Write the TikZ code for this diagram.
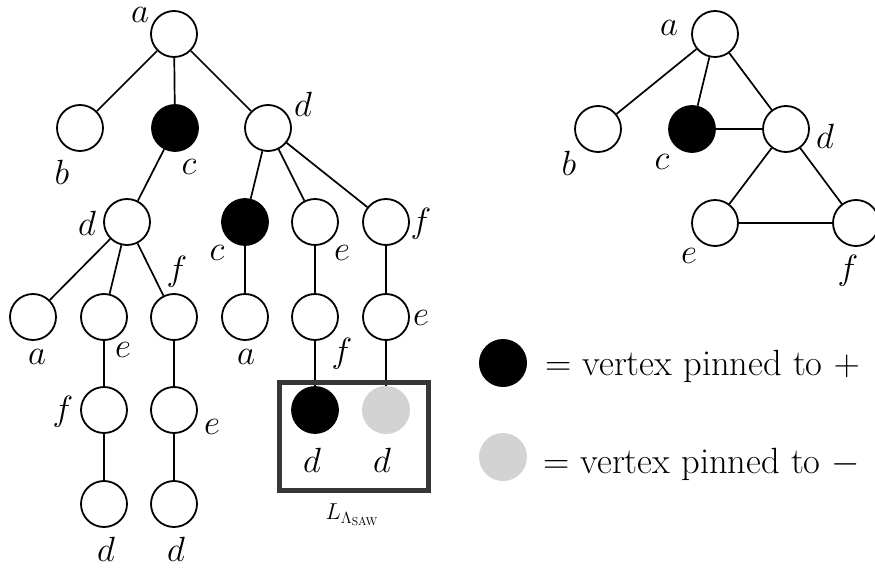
\RequirePackage{fix-cm}
\documentclass[tikz,border=0pt]{standalone}
\definecolor{pinneg}{RGB}{211,211,211}
\definecolor{boxgray}{RGB}{55,55,55}
\begin{document}
\begin{tikzpicture}[x=1pt,y=-1pt,
  v/.style={circle,draw,line width=1.8pt,minimum size=46pt,inner sep=0pt},
  vp/.style={v,fill=black},
  vn/.style={circle,fill=pinneg,minimum size=48pt,inner sep=0pt},
  lab/.style={font=\fontsize{35}{40}\selectfont,inner sep=0pt},
  leg/.style={font=\fontsize{36.5}{40}\selectfont,inner sep=0pt,anchor=base west},
  edge/.style={line width=1.7pt}]
\useasboundingbox (0,0) rectangle (875,569);
% ---------------- tree ----------------
\node[v]  (r)   at (174,34) {};
\node[v]  (b1)  at (80,128) {};
\node[vp] (c1)  at (175,128) {};
\node[v]  (d1)  at (268,128) {};
\node[v]  (d2)  at (127,222) {};
\node[vp] (c2)  at (245,222) {};
\node[v]  (e2)  at (315,222) {};
\node[v]  (f2)  at (386,222) {};
\node[v]  (a3)  at (33,317) {};
\node[v]  (e3)  at (104,317) {};
\node[v]  (f3)  at (174,317) {};
\node[v]  (a3b) at (245,317) {};
\node[v]  (f3b) at (315,317) {};
\node[v]  (e3b) at (386,317) {};
\node[v]  (f4)  at (104,410) {};
\node[v]  (e4)  at (174,410) {};
\node[vp] (d4p) at (315,410) {};
\node[vn] (d4n) at (386,410) {};
\node[v]  (d5)  at (104,504) {};
\node[v]  (d5b) at (174,504) {};
\foreach \u/\w in {r/b1,r/c1,r/d1,c1/d2,d1/c2,d1/e2,d1/f2,d2/a3,d2/e3,d2/f3,
  c2/a3b,e2/f3b,f2/e3b,e3/f4,f3/e4,f3b/d4p,e3b/d4n,f4/d5,e4/d5b}
  \draw[edge] (\u) -- (\w);
% labels
\node[lab] at (140,15) {$a$};
\node[lab] at (62,172) {$b$};
\node[lab] at (189,167) {$c$};
\node[lab] at (303,104) {$d$};
\node[lab] at (87,223) {$d$};
\node[lab] at (217,253) {$c$};
\node[lab] at (342,253) {$e$};
\node[lab] at (421,224) {$f$};
\node[lab] at (177,272) {$f$};
\node[lab] at (37,357) {$a$};
\node[lab] at (123,350) {$e$};
\node[lab] at (246,357) {$a$};
\node[lab] at (342,354) {$f$};
\node[lab] at (421,318) {$e$};
\node[lab] at (63,412) {$f$};
\node[lab] at (212,427) {$e$};
\node[lab] at (312,460) {$d$};
\node[lab] at (382,460) {$d$};
\node[lab] at (106,549) {$d$};
\node[lab] at (176,549) {$d$};
% box
\node[draw=boxgray,line width=5pt,minimum width=149pt,minimum height=108pt,inner sep=0pt] (box) at (353.5,436) {};
\node[font=\fontsize{23}{26}\selectfont,inner sep=0pt] (boxlab) at (352,515) {$L_{\Lambda_{\mathrm{SAW}}}$};
% ---------------- graph ----------------
\node[v]  (ga) at (715,34) {};
\node[v]  (gb) at (598,129) {};
\node[vp] (gc) at (692,129) {};
\node[v]  (gd) at (786,129) {};
\node[v]  (ge) at (715,223) {};
\node[v]  (gf) at (856,223) {};
\foreach \u/\w in {ga/gb,ga/gc,ga/gd,gc/gd,gd/ge,gd/gf,ge/gf}
  \draw[edge] (\u) -- (\w);
\node[lab] at (669,28) {$a$};
\node[lab] at (569,163) {$b$};
\node[lab] at (662,162) {$c$};
\node[lab] at (825,136) {$d$};
\node[lab] at (689,256) {$e$};
\node[lab] at (848,271) {$f$};
% ---------------- legend ----------------
\node[circle,fill=black,minimum size=48pt,inner sep=0pt] (lp) at (503,363) {};
\node[leg] (lpt) at (545,375) {$=$ vertex pinned to $+$};
\node[vn] (ln) at (503,457) {};
\node[leg] (lnt) at (543,473) {$=$ vertex pinned to $-$};
\end{tikzpicture}
\end{document}
